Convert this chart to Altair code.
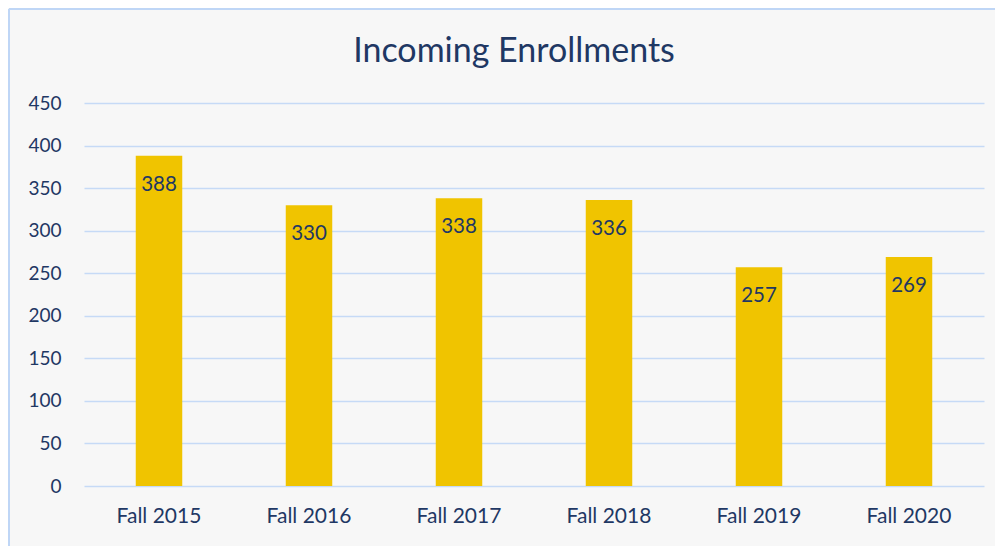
import altair as alt
import pandas as pd

categories = ["Fall 2015", "Fall 2016", "Fall 2017", "Fall 2018", "Fall 2019", "Fall 2020"]
enrollments = [388, 330, 338, 336, 257, 269]

df = pd.DataFrame({"term": categories, "value": enrollments})

NAVY = "#1F3864"
GOLD = "#F0C400"
GRID = "#C6DAF6"
BORDER = "#BFD6F6"
FONT = "Lato"

base = alt.Chart(df).encode(
    x=alt.X("term:N", sort=categories,
            scale=alt.Scale(paddingInner=0.69, paddingOuter=0.345),
            axis=alt.Axis(title=None, labelAngle=0, domain=False, ticks=False,
                          labelPadding=19, labelFontSize=21, labelColor=NAVY,
                          labelFont=FONT, grid=False)),
    y=alt.Y("value:Q", scale=alt.Scale(domain=[0, 450], nice=False),
            axis=alt.Axis(title=None, values=list(range(0, 451, 50)), domain=False,
                          ticks=False, labelPadding=23, labelFontSize=19,
                          labelColor=NAVY, labelFont=FONT, grid=True,
                          gridColor=GRID, gridWidth=1.5)),
)

bars = base.mark_bar(color=GOLD)
labels = base.mark_text(baseline="middle", dy=29, fontSize=20.5, color=NAVY, font=FONT).encode(
    text=alt.Text("value:Q"))

frame_src = alt.Chart(pd.DataFrame({"k": [0]}))
left_border = frame_src.mark_rule(color=BORDER, strokeWidth=2).encode(
    x=alt.value(-75), y=alt.value(-94), y2=alt.value(443))
top_border = frame_src.mark_rule(color=BORDER, strokeWidth=2).encode(
    y=alt.value(-94), x=alt.value(-75), x2=alt.value(911))

chart = (bars + labels + left_border + top_border).properties(
    width=900, height=383,
    autosize=alt.AutoSizeParams(type="none"),
    padding={"left": 76, "top": 95, "right": 11, "bottom": 60},
    background="#F7F7F7",
    title=alt.TitleParams("Incoming Enrollments", fontSize=34, font=FONT, color=NAVY,
                          fontWeight="normal", anchor="middle", offset=-61, dx=-20),
).configure_view(stroke=None)

chart.save("out.html", embed_options={"renderer": "svg", "actions": False})
